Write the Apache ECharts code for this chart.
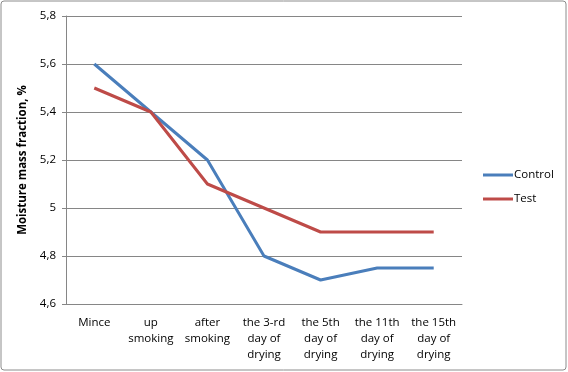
<!DOCTYPE html>
<html>
<head>
<meta charset="utf-8">
<script src="https://cdn.jsdelivr.net/npm/echarts@6/dist/echarts.min.js"></script>
<style>
  html, body { margin: 0; padding: 0; background: #fff; }
  #main { width: 568px; height: 372px; }
</style>
</head>
<body>
<div id="main"></div>
<script>
var stages = ['Mince', 'up\nsmoking', 'after\nsmoking', 'the 3-rd\nday of\ndrying',
  'the 5th\nday of\ndrying', 'the 11th\nday of\ndrying', 'the 15th\nday of\ndrying'];
var control = [5.6, 5.4, 5.2, 4.8, 4.7, 4.75, 4.75];
var test = [5.5, 5.4, 5.1, 5.0, 4.9, 4.9, 4.9];

var font = 'Open Sans';
var chart = echarts.init(document.getElementById('main'), null, { renderer: 'canvas' });

var option = {
  animation: false,
  backgroundColor: '#fff',
  textStyle: { fontFamily: font },
  graphic: [{
    type: 'rect',
    shape: { x: 1, y: 1, width: 565, height: 369, r: 3 },
    style: { fill: 'none', stroke: '#8c8c8c', lineWidth: 1 }
  }],
  grid: { left: 66, right: 106, top: 16, bottom: 68 },
  legend: {
    orient: 'vertical',
    left: 478,
    top: 164,
    itemGap: 12,
    itemWidth: 30,
    itemHeight: 3,
    icon: 'rect',
    textStyle: { fontFamily: font, fontSize: 11.5, color: '#000', padding: [0, 0, 0, -4] },
    data: ['Control', 'Test']
  },
  xAxis: {
    type: 'category',
    data: stages,
    boundaryGap: true,
    axisLine: { lineStyle: { color: '#868686' } },
    axisTick: { show: false },
    axisLabel: { color: '#000', fontSize: 11.5, fontFamily: font, margin: 11, lineHeight: 16, interval: 0 }
  },
  yAxis: {
    type: 'value',
    min: 4.6,
    max: 5.8,
    interval: 0.2,
    name: 'Moisture mass fraction, %',
    nameLocation: 'middle',
    nameGap: 34,
    nameTextStyle: { color: '#000', fontWeight: 'bold', fontSize: 11.5, fontFamily: font },
    axisLine: { show: true, lineStyle: { color: '#868686' } },
    axisTick: { show: true, length: 4, lineStyle: { color: '#868686' } },
    splitLine: { lineStyle: { color: '#868686' } },
    axisLabel: {
      color: '#000', fontSize: 11.5, fontFamily: font, margin: 10,
      formatter: function (v) { return (Math.round(v * 10) / 10).toString().replace('.', ','); }
    }
  },
  series: [
    {
      name: 'Control', type: 'line', data: control,
      symbol: 'none', color: '#4A7EBB',
      lineStyle: { width: 3, color: '#4A7EBB' }
    },
    {
      name: 'Test', type: 'line', data: test,
      symbol: 'none', color: '#BE4B48',
      lineStyle: { width: 3, color: '#BE4B48' }
    }
  ]
};
chart.setOption(option);
</script>
</body>
</html>
